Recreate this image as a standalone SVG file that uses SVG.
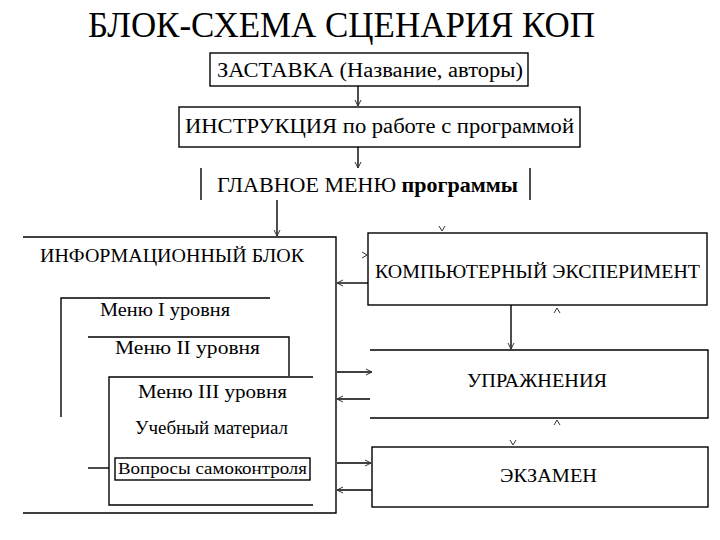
<svg xmlns="http://www.w3.org/2000/svg" width="720" height="540" viewBox="0 0 720 540">
<style>
  text { font-family: "Liberation Serif", "Times New Roman", serif; fill: #000; }
  .t { font-size: 19px; }
  .s { font-size: 18px; }
  .ln { stroke: #000; stroke-width: 1.4; fill: none; }
  .box { stroke: #000; stroke-width: 1.4; fill: #fff; }
  .ah { stroke: #333; stroke-width: 1; fill: none; }
</style>
<defs>
  <marker id="arr" markerWidth="8" markerHeight="8" refX="7" refY="4" orient="auto" markerUnits="userSpaceOnUse">
    <path d="M1,1 L7,4 L1,7" class="ah"/>
  </marker>
  <path id="hd" d="M-3,-5 L0,0 L3,-5" class="ah"/>
  <path id="hu" d="M-3,5 L0,0 L3,5" class="ah"/>
  <path id="hr" d="M-5,-3 L0,0 L-5,3" class="ah"/>
</defs>
<rect width="720" height="540" fill="#fff"/>

<text x="88" y="37" font-size="36" textLength="507" lengthAdjust="spacingAndGlyphs">БЛОК-СХЕМА  СЦЕНАРИЯ КОП</text>

<g id="zastavka">
  <rect class="box" x="210" y="53" width="318" height="33"/>
  <text x="217" y="77" font-size="20" textLength="306" lengthAdjust="spacingAndGlyphs">ЗАСТАВКА (Название, авторы)</text>
</g>

<g id="instruktsiya">
  <rect class="box" x="179" y="107" width="401" height="40"/>
  <text x="185" y="133" font-size="20" textLength="389" lengthAdjust="spacingAndGlyphs">ИНСТРУКЦИЯ по работе с программой</text>
</g>

<g id="glavnoe-menu">
  <line class="ln" x1="201" y1="168" x2="201" y2="200"/>
  <line class="ln" x1="530" y1="168" x2="530" y2="200"/>
  <text x="217" y="192" font-size="21" textLength="301" lengthAdjust="spacingAndGlyphs">ГЛАВНОЕ МЕНЮ <tspan font-weight="bold">программы</tspan></text>
</g>

<g id="info-block">
  <polyline class="ln" points="23,237 336,237 336,513 23,513"/>
  <text class="t" x="40" y="262" textLength="264" lengthAdjust="spacingAndGlyphs">ИНФОРМАЦИОННЫЙ БЛОК</text>
</g>

<g id="menu-1">
  <polyline class="ln" points="61,417 61,298 270,298"/>
  <text class="s" x="100" y="316" textLength="130" lengthAdjust="spacingAndGlyphs">Меню I уровня</text>
</g>

<g id="menu-2">
  <polyline class="ln" points="88,337 289,337 289,376"/>
  <line class="ln" x1="88" y1="468" x2="109" y2="468"/>
  <text class="s" x="115" y="354" textLength="145" lengthAdjust="spacingAndGlyphs">Меню II  уровня</text>
</g>

<g id="menu-3">
  <polyline class="ln" points="313,377 109,377 109,505 313,505"/>
  <text class="s" x="138" y="398" textLength="149" lengthAdjust="spacingAndGlyphs">Меню III уровня</text>
  <text class="s" x="135" y="434" textLength="153" lengthAdjust="spacingAndGlyphs">Учебный материал</text>
</g>

<g id="voprosy">
  <rect class="box" x="115" y="458" width="195" height="22"/>
  <text x="118" y="474" font-size="17" textLength="189" lengthAdjust="spacingAndGlyphs">Вопросы самоконтроля</text>
</g>

<g id="komp-eksperiment">
  <rect class="box" x="368" y="233" width="339" height="72"/>
  <text class="t" x="375" y="278" textLength="325" lengthAdjust="spacingAndGlyphs">КОМПЬЮТЕРНЫЙ ЭКСПЕРИМЕНТ</text>
</g>

<g id="uprazhneniya">
  <polyline class="ln" points="370,350 708,350 708,418 370,418"/>
  <text class="t" x="467" y="387" textLength="140" lengthAdjust="spacingAndGlyphs">УПРАЖНЕНИЯ</text>
</g>

<g id="ekzamen">
  <rect class="box" x="372" y="447" width="336" height="60"/>
  <text class="t" x="500" y="482" textLength="97" lengthAdjust="spacingAndGlyphs">ЭКЗАМЕН</text>
</g>

<g id="connectors">
  <line class="ln" x1="358" y1="86" x2="358" y2="106" marker-end="url(#arr)"/>
  <line class="ln" x1="358" y1="147" x2="358" y2="168" marker-end="url(#arr)"/>
  <line class="ln" x1="277" y1="200" x2="277" y2="236" marker-end="url(#arr)"/>
  <line class="ln" x1="368" y1="283" x2="337" y2="283" marker-end="url(#arr)"/>
  <line class="ln" x1="511" y1="305" x2="511" y2="349" marker-end="url(#arr)"/>
  <line class="ln" x1="337" y1="372" x2="372" y2="372" marker-end="url(#arr)"/>
  <line class="ln" x1="370" y1="399" x2="337" y2="399" marker-end="url(#arr)"/>
  <line class="ln" x1="337" y1="463" x2="371" y2="463" marker-end="url(#arr)"/>
  <line class="ln" x1="372" y1="490" x2="337" y2="490" marker-end="url(#arr)"/>
  <use href="#hd" x="442" y="231"/>
  <use href="#hr" x="367" y="255"/>
  <use href="#hu" x="557" y="308"/>
  <use href="#hu" x="557" y="420"/>
  <use href="#hd" x="513" y="445"/>
</g>
</svg>
